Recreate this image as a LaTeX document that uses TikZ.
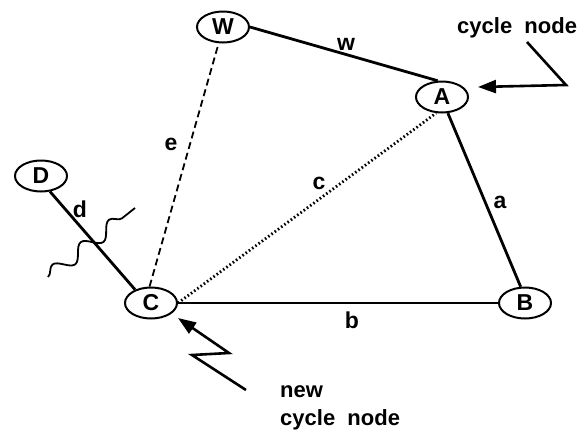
\documentclass[tikz,border=0pt]{standalone}
\usepackage{fontspec}
\setmainfont{Liberation Sans}
\usetikzlibrary{shapes.geometric,arrows.meta,decorations.pathmorphing}

\tikzset{
  vertex/.style={ellipse, draw, line width=2pt, minimum width=52pt, minimum height=31pt, inner sep=0pt, font=\fontsize{23}{27}\selectfont\bfseries},
  lbl/.style={font=\fontsize{23}{27}\selectfont\bfseries, inner sep=0pt},
  note/.style={font=\fontsize{22}{26}\selectfont\bfseries, inner sep=0pt},
  treeedge/.style={line width=2.8pt},
  backedge/.style={line width=1.8pt, dash pattern=on 7pt off 4pt},
  crossedge/.style={line width=2.8pt, dash pattern=on 1.6pt off 2.4pt},
  pointer/.style={line width=2.6pt, -{Triangle[length=18pt,width=13pt]}}
}

\begin{document}
\begin{tikzpicture}[x=1pt, y=-1pt]
\useasboundingbox (0,0) rectangle (587,437);

% nodes
\coordinate (pW) at (223,27);
\coordinate (pA) at (442,97);
\coordinate (pD) at (41,176);
\coordinate (pC) at (151,303);
\coordinate (pB) at (525,303);
\node[vertex] (W) at (pW) {W};
\node[vertex] (A) at (pA) {A};
\node[vertex] (D) at (pD) {D};
\node[vertex] (C) at (pC) {C};
\node[vertex] (B) at (pB) {B};

% edges
\draw[treeedge] (W.east) -- (A.105);
\draw[treeedge] (A.290) -- (B.105);
\draw[treeedge] (C.east) -- (B.west);
\draw[treeedge] (D.300) -- (C.140);
\draw[backedge] (C.95) -- (W.255);
\draw[crossedge] (C.east) -- (A.250);

% edge labels
\node[lbl] (lw) at (346,44) {w};
\node[lbl] (la) at (500,202) {a};
\node[lbl] (lb) at (352,320) {b};
\node[lbl] (lc) at (319,183) {c};
\node[lbl] (ld) at (80,209) {d};
\node[lbl] (le) at (171,144) {e};

% cut through d
\coordinate (cut1) at (48,277);
\coordinate (cut2) at (135,208);
\draw[line width=1.8pt, decorate, decoration={snake, segment length=36pt, amplitude=7pt}] (cut1) -- (cut2);

% cycle node pointer
\node[note, anchor=base west] (tcyc) at (457,33) {cycle\ \ node};
\coordinate (p1) at (527,42);
\coordinate (p2) at (566,85);
\coordinate (p3) at (478,87);
\draw[pointer] (p1) -- (p2) -- (p3);

% new cycle node pointer
\node[note, anchor=base west] (tnew) at (280,397) {new};
\node[note, anchor=base west] (tnewc) at (280,425) {cycle\ \ node};
\coordinate (q1) at (246,390);
\coordinate (q2) at (192,355);
\coordinate (q3) at (229,353);
\coordinate (q4) at (178,318);
\draw[pointer] (q1) -- (q2) -- (q3) -- (q4);

\end{tikzpicture}
\end{document}
